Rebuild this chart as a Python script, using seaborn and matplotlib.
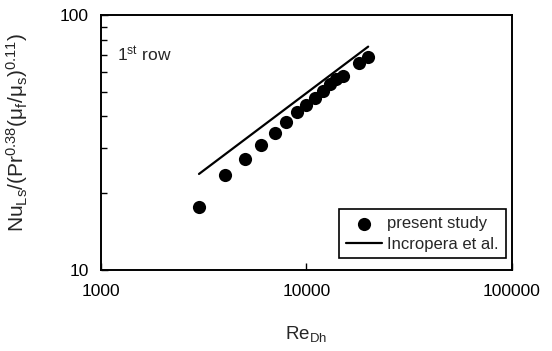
import matplotlib
matplotlib.use("Agg")
import matplotlib.pyplot as plt
import seaborn as sns
import pandas as pd
from matplotlib.ticker import LogLocator, NullFormatter, FixedLocator, FixedFormatter

# Data
re_present = [3000, 4000, 5000, 6000, 7000, 8000, 9000, 10000, 11000,
              12000, 13000, 14000, 15000, 18000, 20000]
nu_present = [17.6, 23.6, 27.2, 31.0, 34.6, 38.0, 41.5, 44.4, 47.1,
              50.5, 53.6, 56.0, 57.7, 64.7, 68.2]
re_incropera = [3000, 20000]
nu_incropera = [23.8, 75.2]
x_ticks = [1000, 10000, 100000]
x_ticklabels = ["1000", "10000", "100000"]
y_ticks = [10, 100]
y_ticklabels = ["10", "100"]

sns.set_style("ticks")
plt.rcParams["font.family"] = ["Liberation Sans", "DejaVu Sans"]
plt.rcParams["mathtext.default"] = "regular"

df_p = pd.DataFrame({"Re": re_present, "Nu": nu_present})
df_i = pd.DataFrame({"Re": re_incropera, "Nu": nu_incropera})

fig = plt.figure(figsize=(5.52, 3.51), dpi=100)
ax = fig.add_axes([0.183, 0.231, 0.744, 0.726])

sns.lineplot(data=df_i, x="Re", y="Nu", ax=ax, color="black", linewidth=1.6,
             label="Incropera et al.", legend=False)
sns.scatterplot(data=df_p, x="Re", y="Nu", ax=ax, color="black", s=90,
                edgecolor="black", linewidth=0, label="present study", legend=False)

ax.set_xscale("log")
ax.set_yscale("log")
ax.set_xlim(1000, 100000)
ax.set_ylim(10, 100)

ax.xaxis.set_major_locator(FixedLocator(x_ticks))
ax.xaxis.set_major_formatter(FixedFormatter(x_ticklabels))
ax.xaxis.set_minor_locator(FixedLocator([]))
ax.yaxis.set_major_locator(FixedLocator(y_ticks))
ax.yaxis.set_major_formatter(FixedFormatter(y_ticklabels))
ax.yaxis.set_minor_locator(LogLocator(base=10, subs=range(2, 10)))
ax.yaxis.set_minor_formatter(NullFormatter())

ax.tick_params(axis="both", which="both", direction="in", colors="black",
               labelsize=12.5, top=False, right=False)
ax.tick_params(axis="y", which="major", length=5, width=1, pad=9)
ax.tick_params(axis="y", which="minor", length=4, width=1)
ax.tick_params(axis="x", which="major", length=5, width=1, pad=10)

for s in ax.spines.values():
    s.set_visible(True)
    s.set_color("black")
    s.set_linewidth(1.4)

ax.set_xlabel("Re$_{Dh}$", fontsize=13.5, labelpad=18)
ax.set_ylabel("Nu$_{Ls}$/(Pr$^{0.38}$(μ$_f$/μ$_s$)$^{0.11}$)", fontsize=15)
ax.yaxis.set_label_coords(-0.172, 0.54)

ax.text(0.038, 0.845, "1$^{st}$ row", transform=ax.transAxes, fontsize=12.5,
        ha="left", va="center")

handles, labels = ax.get_legend_handles_labels()
order = [labels.index("present study"), labels.index("Incropera et al.")]
leg = ax.legend([handles[i] for i in order], [labels[i] for i in order],
                loc="lower right", bbox_to_anchor=(0.985, 0.045), fontsize=12,
                frameon=True, fancybox=False, edgecolor="black", framealpha=1,
                handlelength=2.2, handletextpad=0.3, borderpad=0.4,
                labelspacing=0.35, borderaxespad=0)
leg.get_frame().set_linewidth(1.2)

fig.savefig("out.png", dpi=100)
